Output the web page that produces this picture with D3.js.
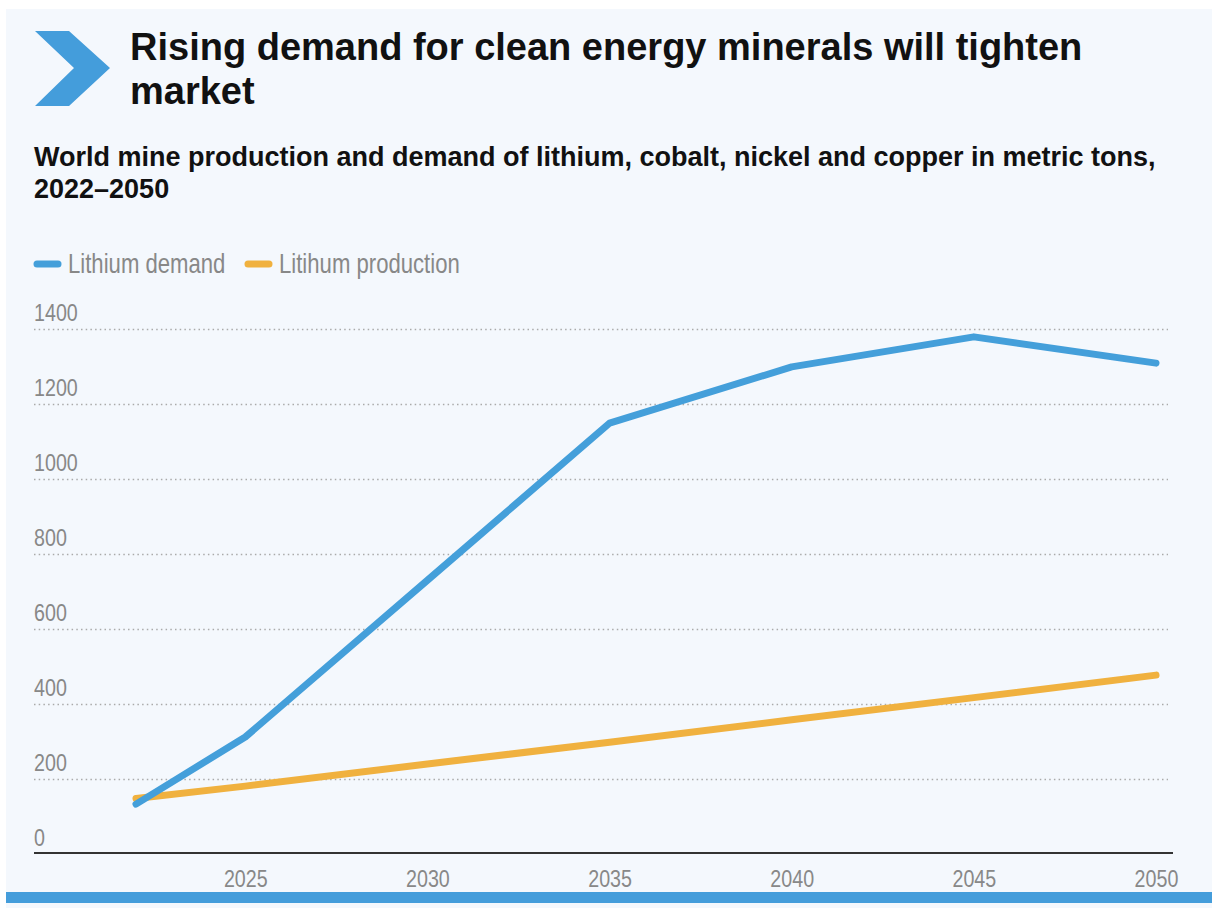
<!DOCTYPE html>
<html>
<head>
<meta charset="utf-8">
<script src="https://cdn.jsdelivr.net/npm/d3@7"></script>
<style>
  html, body { margin: 0; padding: 0; background: #fff; }
  svg { display: block; }
  .title { font-family: "Liberation Sans", Arial, sans-serif; font-weight: bold; font-size: 38px; fill: #111; }
  .subtitle { font-family: "Liberation Sans", Arial, sans-serif; font-weight: bold; font-size: 27px; fill: #111; }
  .narrow { font-family: "Liberation Sans", Arial, sans-serif; fill: #888; }
</style>
</head>
<body>
<div id="chart"></div>
<script>
var years = [2022, 2025, 2030, 2035, 2040, 2045, 2050];
var demand = [133, 312, 730, 1149, 1299, 1379, 1309];
var production = [148, 181, 240, 298, 358, 417, 477];
var yTicks = [0, 200, 400, 600, 800, 1000, 1200, 1400];
var xTicks = [2025, 2030, 2035, 2040, 2045, 2050];
var seriesNames = ["Lithium demand", "Litihum production"];
var colors = ["#449fda", "#f0b13f"];

var w = 1212,
    h = 908,
    squeeze = 0.82; // no narrow font installed, so squash Liberation Sans

var svg = d3.select("#chart").append("svg")
    .attr("width", w)
    .attr("height", h);

function narrowAt(px, py) {
  return "translate(" + px + "," + py + ") scale(" + squeeze + ",1)";
}

// panel background
svg.append("rect")
    .attr("x", 6).attr("y", 9)
    .attr("width", w - 6).attr("height", h - 9)
    .attr("fill", "#f4f8fd");

// chevron
svg.append("path")
    .attr("d", "M35,31 L69,31 L110,68 L69,106 L35,106 L74,68 Z")
    .attr("fill", "#449ddb");

var title = svg.append("text").attr("class", "title");
title.append("tspan").attr("x", 130).attr("y", 60)
    .text("Rising demand for clean energy minerals will tighten");
title.append("tspan").attr("x", 130).attr("y", 104).text("market");

var sub = svg.append("text").attr("class", "subtitle");
sub.append("tspan").attr("x", 34).attr("y", 166)
    .text("World mine production and demand of lithium, cobalt, nickel and copper in metric tons,");
sub.append("tspan").attr("x", 34).attr("y", 198).text("2022\u20132050");

// legend
var legendX = [34, 245];
var legend = svg.selectAll(".legend")
    .data(seriesNames)
  .enter().append("g")
    .attr("class", "legend")
    .attr("transform", function(d, i) { return "translate(" + legendX[i] + ",264)"; });

legend.append("line")
    .attr("x1", 3).attr("x2", 24)
    .attr("stroke", function(d, i) { return colors[i]; })
    .attr("stroke-width", 7)
    .attr("stroke-linecap", "round");

legend.append("text")
    .attr("class", "narrow")
    .attr("transform", narrowAt(34, 9))
    .style("font-size", "27px")
    .text(function(d) { return d; });

var x = d3.scaleLinear().domain([2022, 2050]).range([136, 1156]);
var y = d3.scaleLinear().domain([0, 1400]).range([854, 329]);

// gridlines
svg.append("g")
    .selectAll("line")
    .data(yTicks.filter(function(d) { return d > 0; }))
  .enter().append("line")
    .attr("x1", 34).attr("x2", 1168)
    .attr("y1", function(d) { return y(d) + 0.5; })
    .attr("y2", function(d) { return y(d) + 0.5; })
    .attr("stroke", "#aaa")
    .attr("stroke-width", 1.5)
    .attr("stroke-dasharray", "1.5,3.2");

// y labels
svg.append("g")
    .selectAll("text")
    .data(yTicks)
  .enter().append("text")
    .attr("class", "narrow")
    .attr("transform", function(d) { return narrowAt(34, y(d) - 8); })
    .style("font-size", "24px")
    .text(function(d) { return d; });

// x axis
var xAxis = d3.axisBottom(x)
    .tickValues(xTicks)
    .tickSize(0)
    .tickPadding(0)
    .tickFormat(d3.format("d"));

var gx = svg.append("g")
    .attr("transform", "translate(0," + (y(0) - 1) + ")")
    .call(xAxis);
gx.select(".domain").remove();
gx.selectAll("text")
    .attr("class", "narrow")
    .attr("dy", null)
    .attr("y", null)
    .attr("transform", narrowAt(0, 34))
    .style("font-size", "24px")
    .attr("fill", null);

svg.append("line")
    .attr("x1", 34).attr("x2", 1173)
    .attr("y1", y(0) - 1).attr("y2", y(0) - 1)
    .attr("stroke", "#333")
    .attr("stroke-width", 2.2);

// lines
var line = d3.line()
    .x(function(d) { return x(d[0]); })
    .y(function(d) { return y(d[1]); });

[production, demand].forEach(function(vals, k) {
  var ci = k === 0 ? 1 : 0;
  svg.append("path")
      .datum(years.map(function(yr, i) { return [yr, vals[i]]; }))
      .attr("fill", "none")
      .attr("stroke", colors[ci])
      .attr("stroke-width", 7)
      .attr("stroke-linecap", "round")
      .attr("stroke-linejoin", "round")
      .attr("d", line);
});

// bottom bar
svg.append("rect")
    .attr("x", 6).attr("y", 892)
    .attr("width", w - 6).attr("height", 11)
    .attr("fill", "#449ddb");
</script>
</body>
</html>
